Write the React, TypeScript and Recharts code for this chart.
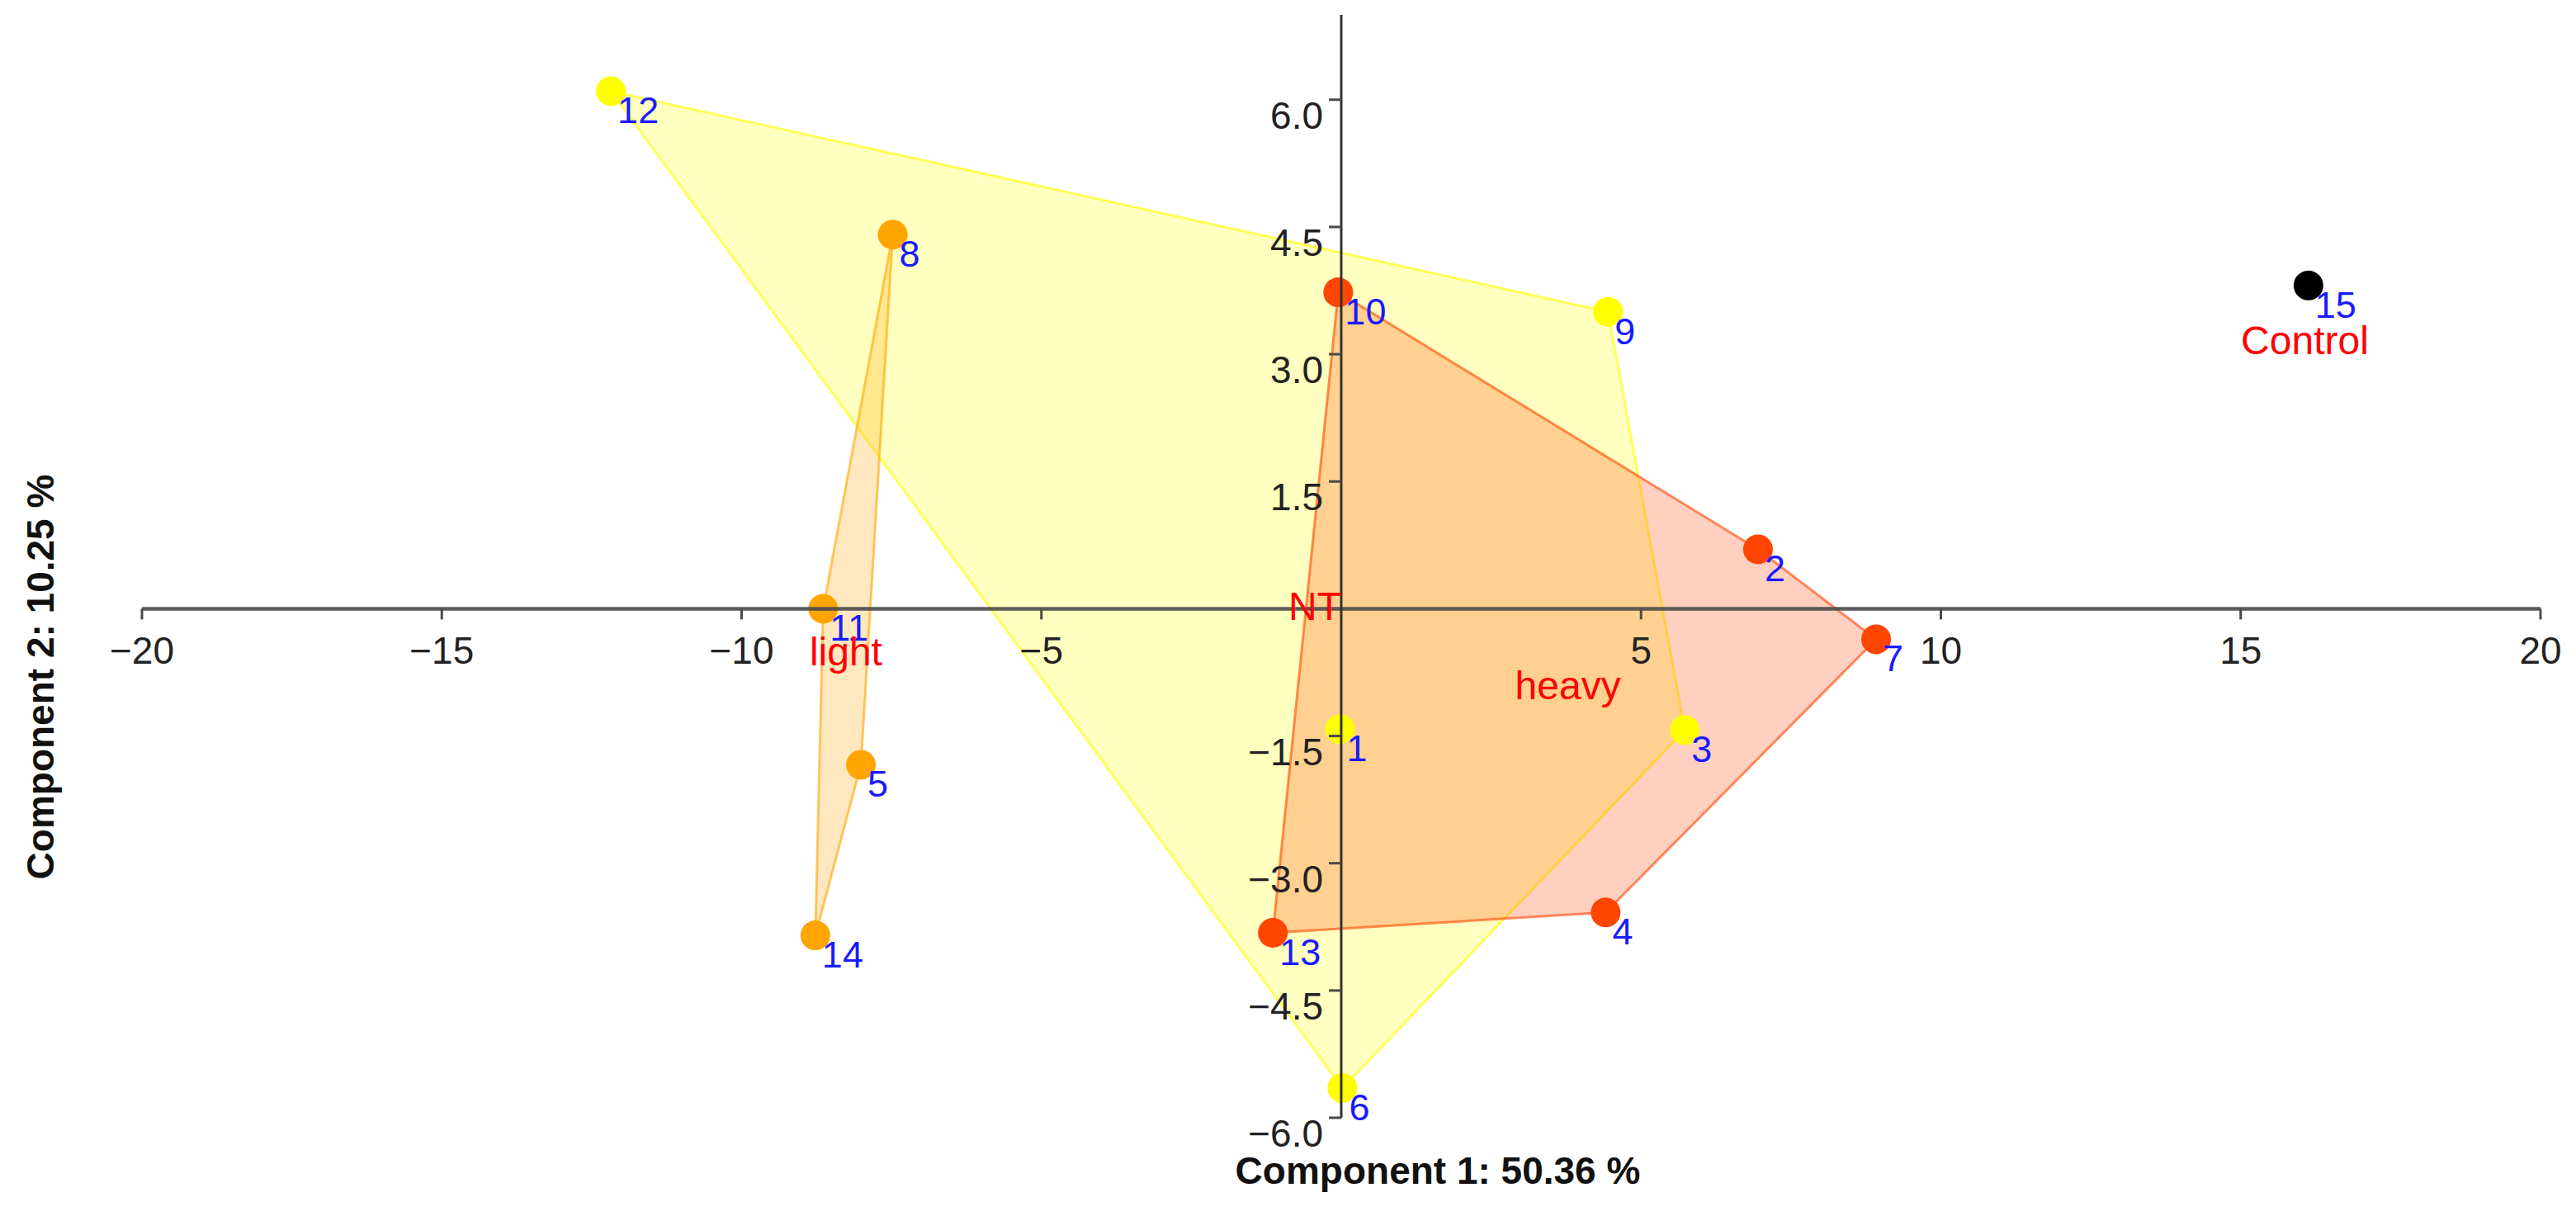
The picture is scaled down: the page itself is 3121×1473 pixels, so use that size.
import React from "react";
import { ScatterChart, Scatter, XAxis, YAxis, Customized } from "recharts";

// PCA scores
const sampleIds = [1, 2, 3, 4, 5, 6, 7, 8, 9, 10, 11, 12, 13, 14, 15];
const pc1 = [-0.02, 6.95, 5.73, 4.41, -8.01, 0.02, 8.92, -7.48, 4.45, -0.05, -8.64, -12.18, -1.14, -8.77, 16.13];
const pc2 = [-1.42, 0.7, -1.43, -3.58, -1.84, -5.65, -0.36, 4.41, 3.5, 3.73, 0.0, 6.1, -3.82, -3.85, 3.81];
const sampleGroups = [
  "NT", "heavy", "NT", "heavy", "light", "NT", "heavy", "light",
  "NT", "heavy", "light", "NT", "heavy", "light", "Control",
];

const groupNames = ["NT", "heavy", "light", "Control"];
const groupColors = ["#FFFF00", "#FF4500", "#FFA500", "#000000"];
const groupLabelX = [-0.44, 3.78, -8.26, 16.07];
const groupLabelY = [0.03, -0.9, -0.5, 3.17];
// hulls drawn in this order
const hullGroups = ["NT", "light", "heavy"];

const xTicks = [-20, -15, -10, -5, 5, 10, 15, 20];
const yTicks = [-6, -4.5, -3, -1.5, 1.5, 3, 4.5, 6];

const xTitle = "Component 1: 50.36 %";
const yTitle = "Component 2: 10.25 %";

const FONT = "'Liberation Sans', Arial, Helvetica, sans-serif";
const AXIS_COLOR = "#4a4a4a";

type Pt = { x: number; y: number };

const samples = sampleIds.map((id, i) => ({
  id,
  x: pc1[i],
  y: pc2[i],
  group: sampleGroups[i],
  color: groupColors[groupNames.indexOf(sampleGroups[i])],
}));

function convexHull(pts: Pt[]): Pt[] {
  const p = [...pts].sort((a, b) => a.x - b.x || a.y - b.y);
  if (p.length < 3) return p;
  const cross = (o: Pt, a: Pt, b: Pt) => (a.x - o.x) * (b.y - o.y) - (a.y - o.y) * (b.x - o.x);
  const lower: Pt[] = [];
  for (const q of p) {
    while (lower.length >= 2 && cross(lower[lower.length - 2], lower[lower.length - 1], q) <= 0) lower.pop();
    lower.push(q);
  }
  const upper: Pt[] = [];
  for (const q of [...p].reverse()) {
    while (upper.length >= 2 && cross(upper[upper.length - 2], upper[upper.length - 1], q) <= 0) upper.pop();
    upper.push(q);
  }
  return lower.slice(0, -1).concat(upper.slice(0, -1));
}

const fmtTick = (v: number, digits: number) => {
  const s = Math.abs(v).toFixed(digits);
  return v < 0 ? "\u2212" + s : s;
};

const xTickData = xTicks.map((v) => ({ x: v, y: 0, label: fmtTick(v, 0) }));
const yTickData = yTicks.map((v) => ({ x: 0, y: v, label: fmtTick(v, 1) }));
const xAxisLine = [{ x: xTicks[0], y: 0 }, { x: xTicks[xTicks.length - 1], y: 0 }];
const yAxisLine = [{ x: 0, y: yTicks[0] }, { x: 0, y: 7 }];
const groupLabelData = groupNames.map((g, i) => ({ x: groupLabelX[i], y: groupLabelY[i], label: g }));

const Empty = () => <g />;

function hullLine(color: string) {
  return (props: any) => {
    const pts: { x: number; y: number }[] = props.points || [];
    return (
      <polygon
        points={pts.map((p) => `${p.x},${p.y}`).join(" ")}
        fill={color}
        fillOpacity={0.25}
        stroke={color}
        strokeOpacity={0.6}
        strokeWidth={3}
        strokeLinejoin="round"
      />
    );
  };
}

const Titles = () => (
  <g fontFamily={FONT} fontWeight="bold" fontSize={46} fill="#111">
    <text x={1742} y={1434} textAnchor="middle">{xTitle}</text>
    <text x={65} y={820} textAnchor="middle" transform="rotate(-90, 65, 820)">{yTitle}</text>
  </g>
);

export default function App() {
  return (
    <div style={{ width: 3121, height: 1473, background: "#fff" }}>
      <style>{"body{margin:0}"}</style>
      <ScatterChart width={3121} height={1473} margin={{ top: 18, right: 43, bottom: 119, left: 172 }}>
        <XAxis type="number" dataKey="x" domain={[-20, 20]} hide />
        <YAxis type="number" dataKey="y" domain={[-6, 7]} hide />

        {hullGroups.map((g) => {
          const color = groupColors[groupNames.indexOf(g)];
          const hull = convexHull(samples.filter((s) => s.group === g));
          return (
            <Scatter
              key={"hull-" + g}
              data={hull}
              line={hullLine(color)}
              lineType="joint"
              shape={Empty}
              isAnimationActive={false}
            />
          );
        })}

        <Scatter
          data={samples}
          isAnimationActive={false}
          shape={(p: any) => <circle cx={p.cx} cy={p.cy} r={18} fill={p.payload.color} />}
        />

        <Scatter
          data={xAxisLine}
          line={{ stroke: AXIS_COLOR, strokeWidth: 4.5, strokeOpacity: 0.9 }}
          lineType="joint"
          shape={Empty}
          isAnimationActive={false}
        />
        <Scatter
          data={yAxisLine}
          line={{ stroke: "#333", strokeWidth: 3 }}
          lineType="joint"
          shape={Empty}
          isAnimationActive={false}
        />

        <Scatter
          data={xTickData}
          isAnimationActive={false}
          shape={(p: any) => (
            <g>
              <line x1={p.cx} y1={p.cy} x2={p.cx} y2={p.cy + 13} stroke={AXIS_COLOR} strokeWidth={3} />
              <text x={p.cx} y={p.cy + 67} textAnchor="middle" fontFamily={FONT} fontSize={46} fill="#222">
                {p.payload.label}
              </text>
            </g>
          )}
        />
        <Scatter
          data={yTickData}
          isAnimationActive={false}
          shape={(p: any) => (
            <g>
              <line x1={p.cx - 15} y1={p.cy} x2={p.cx} y2={p.cy} stroke={AXIS_COLOR} strokeWidth={3} />
              <text x={p.cx - 22} y={p.cy + 35} textAnchor="end" fontFamily={FONT} fontSize={46} fill="#222">
                {p.payload.label}
              </text>
            </g>
          )}
        />

        <Scatter
          data={samples}
          isAnimationActive={false}
          shape={(p: any) => (
            <text x={p.cx + 8} y={p.cy + 39} fontFamily={FONT} fontSize={45} fill="#1a1aff">
              {p.payload.id}
            </text>
          )}
        />
        <Scatter
          data={groupLabelData}
          isAnimationActive={false}
          shape={(p: any) => (
            <text x={p.cx} y={p.cy + 17} textAnchor="middle" fontFamily={FONT} fontSize={48} fill="#FF0000">
              {p.payload.label}
            </text>
          )}
        />

        <Customized component={Titles} />
      </ScatterChart>
    </div>
  );
}
